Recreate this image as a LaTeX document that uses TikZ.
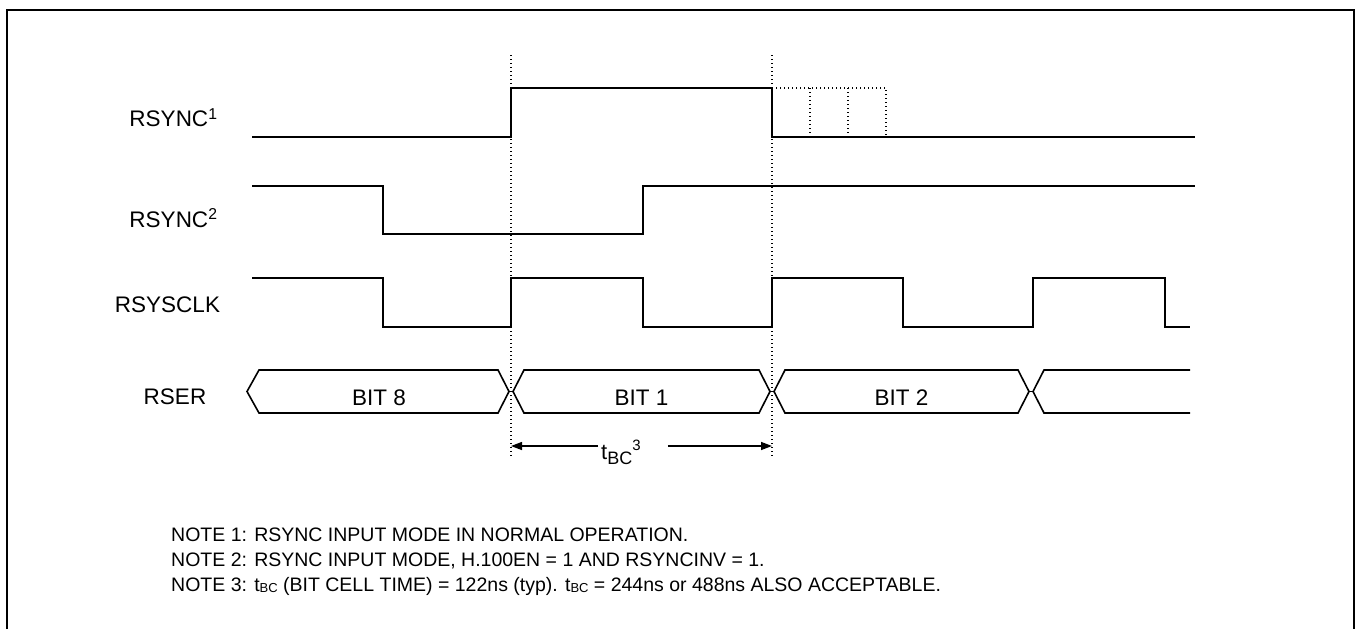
\documentclass[tikz,border=0pt]{standalone}
\usepackage{fontspec}
\setmainfont{Liberation Sans}
\usetikzlibrary{arrows.meta,positioning}

\begin{document}
\begin{tikzpicture}[x=1pt,y=-1pt,
sig/.style={line width=1.6pt,line join=miter},
guide/.style={line width=1.1pt,dash pattern=on 1.1pt off 2.9pt},
frame/.style={line width=2pt},
siglabel/.style={anchor=base,inner sep=0pt,font=\fontsize{22.5}{27}\selectfont},
bitlabel/.style={siglabel},
note/.style={anchor=base west,inner sep=0pt,font=\fontsize{19.5}{23}\selectfont},
dimarrow/.style={-{Triangle[length=11pt,width=8pt]},line width=1.4pt}]
\useasboundingbox (0,0) rectangle (1359,629);
\draw[frame] (7,629) -- (7,10) -- (1354,10) -- (1354,629);
% signal names
\node[siglabel] (lblsync1) at (173.5,126.7) {RSYNC\textsuperscript{1}};
\node[siglabel] (lblsync2) at (173.5,227) {RSYNC\textsuperscript{2}};
\node[siglabel] (lblclk) at (167.5,312) {RSYSCLK};
\node[siglabel] (lblser) at (175,404) {RSER};
% bit cell guides
\coordinate (ga) at (511,55);
\coordinate (gb) at (772,55);
\draw[guide] (ga) -- ++(0,403);
\draw[guide] (gb) -- ++(0,403);
% RSYNC (normal)
\draw[sig] (252,137) -- (511,137) -- (511,88) -- (772,88) -- (772,137) -- (1195,137);
\draw[guide] (772,88) -- (886,88) -- (886,137);
\draw[guide] (810,88) -- (810,137);
\draw[guide] (848,88) -- (848,137);
% RSYNC (H.100)
\draw[sig] (252,186) -- (383,186) -- (383,234) -- (643,234) -- (643,186) -- (1195,186);
% RSYSCLK
\draw[sig] (252,278) -- (383,278) -- (383,327) -- (511,327) -- (511,278) -- (643,278)
  -- (643,327) -- (772,327) -- (772,278) -- (903,278) -- (903,327) -- (1033,327)
  -- (1033,278) -- (1165,278) -- (1165,327) -- (1190,327);
% RSER
\draw[sig] (247,391.5) -- (259,370) -- (498,370) -- (509,391.5) -- (498,413) -- (259,413) -- cycle;
\draw[sig] (509,391.5) -- (513,391.5);
\draw[sig] (513,391.5) -- (524,370) -- (759,370) -- (770,391.5) -- (759,413) -- (524,413) -- cycle;
\draw[sig] (770,391.5) -- (774,391.5);
\draw[sig] (774,391.5) -- (785,370) -- (1018,370) -- (1029,391.5) -- (1018,413) -- (785,413) -- cycle;
\draw[sig] (1029,391.5) -- (1033,391.5);
\draw[sig] (1190,370) -- (1044,370) -- (1033,391.5) -- (1044,413) -- (1190,413);
\node[bitlabel] (bit8) at (379,405) {BIT 8};
\node[bitlabel] (bit1) at (641.5,405) {BIT 1};
\node[bitlabel] (bit2) at (901.5,405) {BIT 2};
% bit cell time
\coordinate (ta) at (511,446);
\coordinate (tb) at (772,446);
\node[anchor=base west,inner sep=0pt,font=\fontsize{22}{26}\selectfont] (tbc) at (601,459)
  {t\raisebox{-5pt}{\fontsize{18}{20}\selectfont BC}\raisebox{9pt}{\fontsize{15}{18}\selectfont 3}};
\draw[dimarrow] ([xshift=-3pt]tbc.west |- ta) -- (ta);
\draw[dimarrow] ([xshift=27pt]tbc.east |- tb) -- (tb);
% notes
\node[note] (note1) at (171,541.7) {NOTE 1: RSYNC INPUT MODE IN NORMAL OPERATION.};
\node[note] (note2) at (171,566.7) {NOTE 2: RSYNC INPUT MODE, H.100EN = 1 AND RSYNCINV = 1.};
\node[note] (note3) at (171,591.7) {NOTE 3: t\raisebox{-1pt}{\fontsize{13}{15}\selectfont BC} (BIT CELL TIME) = 122ns (typ). t\raisebox{-1pt}{\fontsize{13}{15}\selectfont BC} = 244ns or 488ns ALSO ACCEPTABLE.};
\end{tikzpicture}
\end{document}
